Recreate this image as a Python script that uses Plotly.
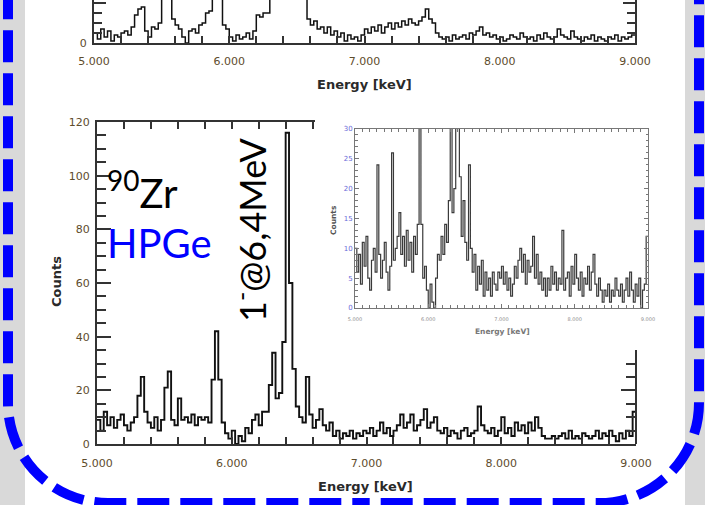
import plotly.graph_objects as go

W, H = 705, 505

# ---------------- data (counts per 0.025 keV bin, 5.000 .. 9.000 keV) ----------------
bin_start = 5.0
bin_width = 0.025

main_counts = [
    9, 5, 12, 7, 10, 6, 9, 11,      7, 5, 8, 10,   18, 25, 12, 8,
    6, 10, 5, 9,   21, 27, 9, 7,    17, 9, 10, 8,  11, 7, 10, 9,
    10, 8, 24, 42, 24, 8, 4, 2,     5, 0, 3, 1, 6, 4, 9, 11,
    7, 12, 12, 22, 34, 17, 19, 38,  116, 60, 28, 14, 10, 8, 25, 11,
    6, 9, 13, 7, 5, 8, 3, 5,        2, 4, 3, 5, 2, 4, 3, 5,
    4, 6, 3, 5, 8, 4, 6, 3,         5, 7, 11, 6, 8, 11, 5, 7,
    9, 13, 6, 8, 10, 5, 4, 6,       3, 5, 4, 2, 5, 6, 3, 4,
    5, 14, 7, 5, 4, 6, 3, 5,        10, 4, 6, 3, 8, 5, 7, 4,
    8, 5, 10, 6, 3, 2, 2, 3,        2, 3, 4, 2, 5, 2, 3, 2,
    4, 3, 2, 3, 5, 2, 4, 3,         5, 3, 1, 4, 2, 5, 3, 12,
]

top_counts = [
    5, 2, 7, 3, 6, 1, 4, 3,         5, 6, 4, 8,    14, 17, 18, 6,
    3, 8, 7, 10,   24, 22, 25, 12,  9, 7, 3, 0,    6, 7, 5, 9,
    10, 15, 16, 30, 35, 22, 9, 7,   3, 1, 4, 2, 3, 5, 2, 6,
    14, 13, 15, 15, 28, 35, 40, 45, 60, 50, 38, 30, 25, 30, 22, 12,
    9, 11, 7, 8, 5, 8, 4, 6,        3, 5, 1, 4, 2, 3, 1, 4,
    7, 5, 8, 6, 9, 5, 8, 10,        7, 10, 8, 11, 9, 12, 10, 9,
    11, 13, 17, 12, 10, 5, 3, 2,    3, 1, 4, 2, 3, 4, 2, 5,
    4, 6, 8, 4, 5, 3, 4, 2,         3, 1, 2, 4, 3, 2, 5, 3,
    2, 3, 1, 4, 2, 5, 3, 2,         3, 7, 4, 3, 2, 6, 3, 2,
    1, 3, 2, 4, 1, 3, 2, 1,         3, 2, 4, 1, 3, 2, 3, 4,
]

inset_counts = [
    10, 6, 9, 4, 11, 7, 12, 5,      3, 8, 10, 6,   24, 9, 5, 8,
    11, 6, 3, 7,   26, 8, 10, 12,   16, 9, 12, 7,  13, 8, 11, 6,
    12, 9, 14, 32, 14, 5, 7, 3,     0, 4, 1, 0, 5, 9, 8, 12,
    9, 14, 11, 18, 33, 16, 20, 33,  34, 22, 12, 18, 11, 8, 24, 10,
    6, 9, 3, 7, 4, 8, 2, 6,         3, 5, 2, 6, 4, 3, 6, 5,
    7, 4, 6, 3, 5, 2, 4, 7,         5, 8, 10, 6, 9, 4, 8, 6,
    7, 12, 5, 9, 4, 6, 3, 5,        2, 5, 3, 7, 4, 6, 3, 5,
    4, 13, 3, 5, 6, 2, 7, 4,        9, 5, 3, 6, 2, 5, 4, 7,
    3, 6, 9, 4, 2, 5, 3, 1,         3, 2, 4, 1, 3, 2, 5, 3,
    2, 4, 1, 3, 5, 2, 6, 3,         1, 4, 2, 5, 0, 3, 4, 12,
]

energy_ticks = [5.0, 6.0, 7.0, 8.0, 9.0]
energy_tick_text = ["5.000", "6.000", "7.000", "8.000", "9.000"]


def step_xy(counts):
    xs = [bin_start + bin_width * i for i in range(len(counts))]
    xs.append(bin_start + bin_width * len(counts))
    ys = list(counts) + [counts[-1]]
    return xs, ys


def px(x):
    return x / W


def py(y):
    return 1 - y / H


TICK_FONT = dict(family="DejaVu Sans", size=11, color="#5e4c2c")
AX = "#333333"
LINE = "#111111"

fig = go.Figure()

mx, my = step_xy(main_counts)
fig.add_trace(go.Scatter(x=mx, y=my, mode="lines", line=dict(shape="hv", color=LINE, width=1.9),
                         xaxis="x", yaxis="y", hoverinfo="skip"))
tx, ty = step_xy(top_counts)
fig.add_trace(go.Scatter(x=tx, y=ty, mode="lines", line=dict(shape="hv", color=LINE, width=1.5),
                         xaxis="x2", yaxis="y2", hoverinfo="skip"))
ix, iy = step_xy(inset_counts)
fig.add_trace(go.Scatter(x=ix, y=iy, mode="lines", line=dict(shape="hv", color="#3a3a3a", width=1.2),
                         xaxis="x3", yaxis="y3", hoverinfo="skip"))
fig.add_trace(go.Scatter(x=[], y=[], xaxis="x4", yaxis="y", hoverinfo="skip"))
fig.add_trace(go.Scatter(x=[], y=[], xaxis="x", yaxis="y4", hoverinfo="skip"))

base = dict(showgrid=False, zeroline=False, showline=True, automargin=False, fixedrange=True)
common_x = dict(base, linecolor=AX, linewidth=2,
                ticks="inside", tickcolor=AX, tickwidth=1.5, ticklen=7,
                tickvals=energy_ticks, ticktext=energy_tick_text, tickfont=TICK_FONT,
                ticklabelstandoff=8,
                minor=dict(dtick=0.2, tick0=5.0, ticks="inside", ticklen=7, tickcolor=AX, tickwidth=1.5))
common_y = dict(base, linecolor=AX, linewidth=2,
                ticks="inside", tickcolor=AX, tickwidth=1.5, ticklen=14, dtick=20, tick0=0,
                tickfont=TICK_FONT, ticklabelstandoff=3,
                minor=dict(dtick=5, tick0=0, ticks="inside", ticklen=9, tickcolor=AX, tickwidth=1.5))

main_top_end = 5.0 + (315 - 97) * 4.0 / (636 - 97)
main_right_top = (444 - 350) * 120.0 / (444 - 122)

fig.update_layout(
    template="none",
    width=W, height=H, margin=dict(l=0, r=0, t=0, b=0, pad=0), autosize=False,
    paper_bgcolor="#d9d9d9", plot_bgcolor="rgba(0,0,0,0)", showlegend=False,
    xaxis=dict(common_x, domain=[px(97), px(636)], range=[5, 9], anchor="y"),
    yaxis=dict(common_y, domain=[py(444), py(122)], range=[0, 120], anchor="x"),
    xaxis2=dict(common_x, domain=[px(94), px(635)], range=[5, 9], anchor="y2", ticklabelstandoff=7),
    yaxis2=dict(common_y, domain=[py(43), 1], range=[0, 21.5], anchor="x2", mirror="ticks",
                ticklen=12, minor=dict(dtick=5, tick0=0, ticks="inside", ticklen=8,
                                       tickcolor=AX, tickwidth=1.5)),
    xaxis3=dict(base, linecolor="#777777", linewidth=1,
                mirror="allticks", ticks="inside", tickcolor="#777777", ticklen=4, tickwidth=1,
                tickvals=energy_ticks, ticktext=energy_tick_text, ticklabelstandoff=6,
                tickfont=dict(family="DejaVu Sans", size=5, color="#8a8a8a"),
                minor=dict(dtick=0.1, tick0=5.0, ticks="inside", ticklen=3, tickcolor="#777777"),
                domain=[px(355), px(648)], range=[5, 9], anchor="y3"),
    yaxis3=dict(base, linecolor="#777777", linewidth=1,
                mirror="allticks", ticks="inside", tickcolor="#777777", ticklen=4, tickwidth=1,
                dtick=5, tick0=0,
                tickfont=dict(family="DejaVu Sans", size=7, color="#6a6ad8"),
                minor=dict(dtick=1, tick0=0, ticks="inside", ticklen=2.5, tickcolor="#777777"),
                domain=[py(308), py(129)], range=[0, 30], anchor="x3"),
    xaxis4=dict(base, linecolor=AX, linewidth=2,
                ticks="inside", tickcolor=AX, tickwidth=1.5, ticklen=7, dtick=0.2, tick0=5.0,
                showticklabels=False, side="top", anchor="y",
                domain=[px(97), px(315)], range=[5, main_top_end]),
    yaxis4=dict(base, linecolor=AX, linewidth=2,
                ticks="inside", tickcolor=AX, tickwidth=1.5, ticklen=14, dtick=20, tick0=0,
                minor=dict(dtick=5, tick0=0, ticks="inside", ticklen=9, tickcolor=AX, tickwidth=1.5),
                showticklabels=False, side="right", anchor="free", position=px(636),
                domain=[py(444), py(350)], range=[0, main_right_top]),
)


def path(points):
    cmds = []
    for cmd, pts in points:
        coords = " ".join(f"{px(x):.5f},{py(y):.5f}" for x, y in pts)
        cmds.append(f"{cmd} {coords}")
    return " ".join(cmds)


R = 100
K = 0.5523 * R
left_path = path([("M", [(8, -12.7)]), ("L", [(8, 503 - R)]),
                  ("C", [(8, 503 - R + K), (8 + R - K, 503), (8 + R, 503)]),
                  ("L", [(353, 503)])])
right_path = path([("M", [(699, -27.7)]), ("L", [(699, 503 - R)]),
                   ("C", [(699, 503 - R + K), (699 - R + K, 503), (699 - R, 503)]),
                   ("L", [(353, 503)])])

fig.update_layout(shapes=[
    dict(type="rect", xref="paper", yref="paper", x0=px(25), x1=px(685), y0=0, y1=1,
         fillcolor="white", line=dict(width=0), layer="below"),
    dict(type="path", xref="paper", yref="paper", path=left_path,
         line=dict(color="#0000ff", width=10, dash="32px,11px"), layer="above"),
    dict(type="path", xref="paper", yref="paper", path=right_path,
         line=dict(color="#0000ff", width=10, dash="32px,11px"), layer="above"),
])

TITLE_FONT = dict(family="DejaVu Sans", size=13, color="#2a2a2a", weight="bold")
ann = [
    dict(text="Energy [keV]", x=px(364), y=py(84), font=TITLE_FONT),
    dict(text="Energy [keV]", x=px(365), y=py(486), font=TITLE_FONT),
    dict(text="Counts", x=px(56), y=py(282), textangle=-90, font=TITLE_FONT),
    dict(text="Energy [keV]", x=px(502), y=py(331),
         font=dict(family="DejaVu Sans", size=7.5, color="#777777", weight="bold")),
    dict(text="Counts", x=px(334), y=py(220), textangle=-90,
         font=dict(family="DejaVu Sans", size=7.5, color="#555555", weight="bold")),
    dict(text="<sup>90</sup>Zr", x=px(105), y=py(190), xanchor="left",
         font=dict(family="Lato", size=40, color="black")),
    dict(text="HPGe", x=px(105), y=py(243), xanchor="left",
         font=dict(family="Lato", size=40, color="#0000ff")),
    dict(text="1<sup>-</sup>@6,4MeV", x=px(250), y=py(230), textangle=-90,
         font=dict(family="Lato", size=36, color="black")),
]
for a in ann:
    a.setdefault("xanchor", "center")
    a.setdefault("yanchor", "middle")
    a.update(xref="paper", yref="paper", showarrow=False)
fig.update_layout(annotations=ann)

fig.write_html("out.html", config={"displayModeBar": False},
               post_script="document.body.style.margin='0';document.body.style.overflow='hidden';")
